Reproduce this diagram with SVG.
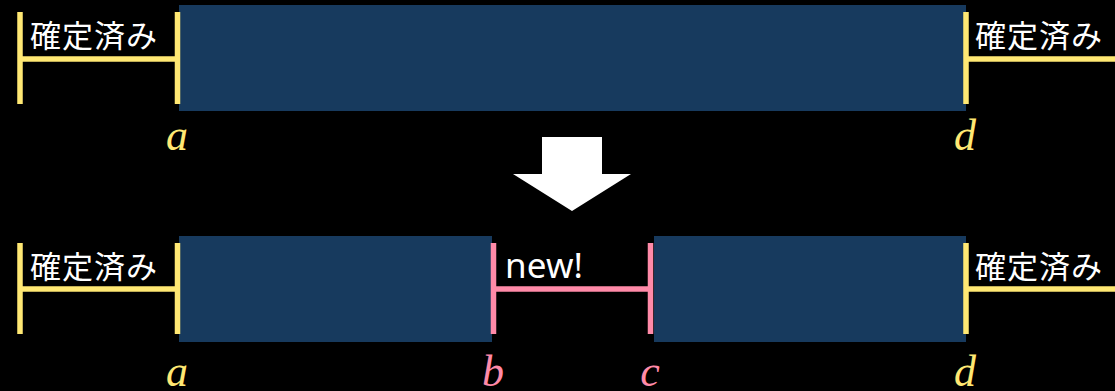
<svg xmlns="http://www.w3.org/2000/svg" width="1115" height="391" viewBox="0 0 1115 391">
<style>
.bg{fill:#000}
.blk{fill:#173A5E}
.y{stroke:#FFE873;stroke-width:5.5;fill:none}
.p{stroke:#FF8AA8;stroke-width:5.5;fill:none}
.jp{font-family:"Noto Sans CJK JP","Noto Sans",sans-serif;font-size:31px;fill:#fff}
.en{font-family:"Noto Sans",sans-serif;font-size:35px;fill:#fff}
.m{font-family:"Liberation Serif",serif;font-style:italic;font-size:44px;text-anchor:middle}
.my{fill:#FFE873}
.mp{fill:#FF8AA8}
</style>
<rect class="bg" x="0" y="0" width="1115" height="391"/>
<g id="top-block"><rect class="blk" x="179" y="5" width="787" height="106"/></g>
<g id="top-left-done">
<path class="y" d="M20 12V104M177.5 12V104M20 59H177.5"/>
<text class="jp" x="30" y="47" textLength="127">確定済み</text>
</g>
<g id="top-right-done">
<path class="y" d="M966 12V104M966 59H1115"/>
<text class="jp" x="975" y="47" textLength="127">確定済み</text>
</g>
<g id="top-labels">
<text class="m my" x="177" y="150">a</text>
<text class="m my" x="965" y="150">d</text>
</g>
<g id="arrow"><polygon fill="#fff" points="542,137 602,137 602,174 631,174 572,211 513,174 542,174"/></g>
<g id="bottom-block-left"><rect class="blk" x="179" y="236" width="313" height="106"/></g>
<g id="bottom-block-right"><rect class="blk" x="654" y="236" width="312" height="106"/></g>
<g id="bottom-left-done">
<path class="y" d="M20 243V334M177.5 243V334M20 289H177.5"/>
<text class="jp" x="30" y="278" textLength="127">確定済み</text>
</g>
<g id="bottom-new">
<path class="p" d="M493.5 243V334M650.5 243V334M493.5 289H650.5"/>
<text class="en" x="505" y="278" textLength="78">new!</text>
</g>
<g id="bottom-right-done">
<path class="y" d="M966 243V334M966 289H1115"/>
<text class="jp" x="975" y="278" textLength="127">確定済み</text>
</g>
<g id="bottom-labels">
<text class="m my" x="177" y="386">a</text>
<text class="m mp" x="493" y="386">b</text>
<text class="m mp" x="650" y="386">c</text>
<text class="m my" x="965" y="386">d</text>
</g>
</svg>
